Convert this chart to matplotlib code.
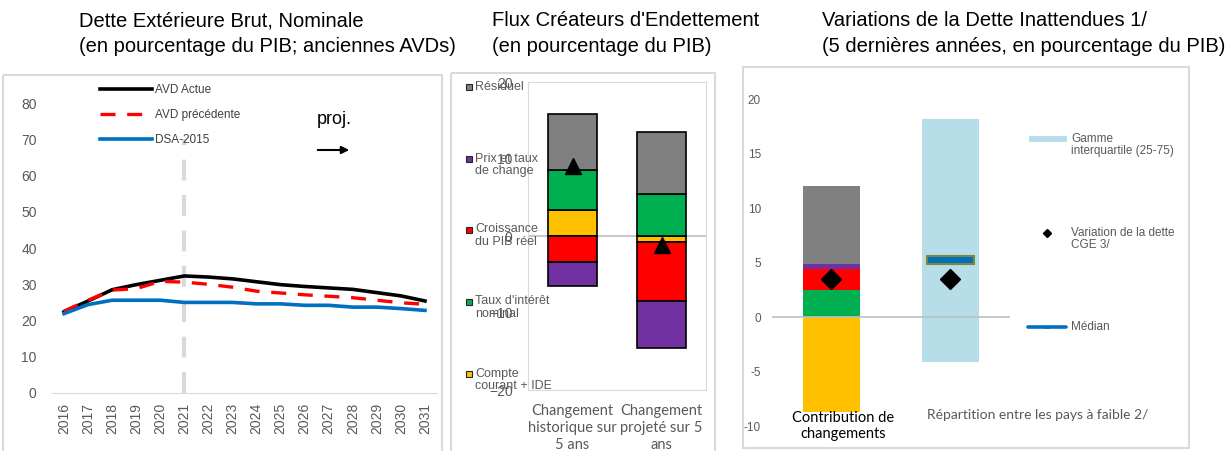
import matplotlib.pyplot as plt
from matplotlib.patches import Rectangle
import numpy as np

plt.rcParams['font.family'] = ['Liberation Sans', 'DejaVu Sans']

W, H = 1228, 451

# ---- data: left panel (dette extérieure)
years = ['2016', '2017', '2018', '2019', '2020', '2021', '2022', '2023',
         '2024', '2025', '2026', '2027', '2028', '2029', '2030', '2031']
avd_actuelle = [22.4, 25.4, 28.5, 29.9, 31.1, 32.3, 32.0, 31.5, 30.7, 29.9, 29.4, 29.0, 28.6, 27.7, 26.8, 25.4]
avd_precedente = [22.6, 25.6, 28.4, 28.8, 30.8, 30.6, 30.0, 29.2, 28.1, 27.6, 27.1, 26.7, 26.3, 25.6, 24.9, 24.5]
dsa_2015 = [21.9, 24.4, 25.6, 25.6, 25.6, 25.0, 25.0, 25.0, 24.6, 24.6, 24.2, 24.2, 23.7, 23.7, 23.3, 22.8]
proj_start = '2021'

# ---- data: middle panel (flux créateurs d'endettement)
flux_cats = ['Changement\nhistorique sur\n5 ans', 'Changement\nprojeté sur 5\nans']
flux_labels = ['Compte\ncourant + IDE', "Taux d'intérêt\nnominal", 'Croissance\ndu PIB réel',
               'Prix et taux\nde change', 'Résiduel']
flux_colors = ['#FFC000', '#00B050', '#FF0000', '#7030A0', '#808080']
flux_ce = [3.4, -0.8]
flux_taux = [5.2, 5.5]
flux_croiss = [-3.4, -7.7]
flux_prix = [-3.15, -6.1]
flux_resid = [7.3, 8.0]
flux_total = [9.1, -1.2]

# ---- data: right panel (variations inattendues)
var_cats = ['Contribution de\nchangements', 'Répartition entre les pays à faible 2/']
var_contrib = [-8.65, 2.5, 1.93, 0.47, 7.15]   # same order as flux_labels
iqr_low, iqr_high = -4.1, 18.2
median_val = 5.25
var_dette = [3.5, 3.5]


def px_axes(l, t, r, b, **kw):
    return fig.add_axes([l / W, 1 - b / H, (r - l) / W, (b - t) / H], **kw)


fig = plt.figure(figsize=(W / 100, H / 100), dpi=100)
grey_txt = '#595959'

# ================= panel 1
ax1 = px_axes(52, 85, 437, 393)
x = np.arange(len(years))
l1, = ax1.plot(x, avd_actuelle, color='black', lw=2.6)
l2, = ax1.plot(x, avd_precedente, color='#FF0000', lw=2.4, dashes=(4.5, 3.5))
l3, = ax1.plot(x, dsa_2015, color='#0070C0', lw=2.6)
ax1.axvline(years.index(proj_start), ymin=0, ymax=70 / 85, color='#d9d9d9', lw=3, dashes=(5, 3.5), zorder=0)
ax1.set_xlim(-0.5, len(years) - 0.5)
ax1.set_ylim(0, 85)
ax1.set_yticks(range(0, 81, 10))
ax1.set_xticks(x, years, rotation=90)
ax1.tick_params(length=0, labelsize=10, labelcolor=grey_txt)
ax1.tick_params(axis='y', pad=11)
ax1.tick_params(axis='x', pad=7)
for s in ['top', 'right', 'left']:
    ax1.spines[s].set_visible(False)
ax1.spines['bottom'].set_color('#d9d9d9')
ax1.patch.set_alpha(0)
ax1.legend([l1, l2, l3], ['AVD Actue', 'AVD précédente', 'DSA-2015'], loc='upper left',
           bbox_to_anchor=(0.125, 1.004), frameon=False, fontsize=8.5, labelcolor='#404040',
           handlelength=4.4, handletextpad=0.25, labelspacing=1.1, borderpad=0, borderaxespad=0)

# ================= panel 2
ax2 = px_axes(528, 82, 706, 390)
xc = np.arange(len(flux_cats))
series = [flux_ce, flux_taux, flux_croiss, flux_prix, flux_resid]
pos_base = np.zeros(len(flux_cats))
neg_base = np.zeros(len(flux_cats))
for vals, col in zip(series, flux_colors):
    vals = np.array(vals)
    bottom = np.where(vals >= 0, pos_base, neg_base)
    ax2.bar(xc, vals, bottom=bottom, width=0.56, color=col, edgecolor='black', lw=1.2, zorder=2)
    pos_base = pos_base + np.where(vals >= 0, vals, 0)
    neg_base = neg_base + np.where(vals < 0, vals, 0)
ax2.plot(xc, flux_total, ls='none', marker='^', ms=11.5, color='black', zorder=3)
ax2.axhline(0, color='#bfbfbf', lw=1.2, zorder=1)
ax2.set_xlim(-0.5, 1.5)
ax2.set_ylim(-20, 20)
ax2.set_yticks([-20, -10, 0, 10, 20])
ax2.set_xticks(xc, flux_cats, fontsize=10.5, color=grey_txt, family=['Lato', 'DejaVu Sans'], linespacing=1.3)
ax2.tick_params(length=0, labelcolor=grey_txt)
ax2.tick_params(axis='y', labelsize=10, pad=11)
ax2.tick_params(axis='x', pad=10)
for s in ax2.spines.values():
    s.set_color('#d9d9d9')
ax2.patch.set_alpha(0)

# ================= panel 3
ax3 = px_axes(772, 85, 1010, 440)
ax3.bar(1, iqr_high - iqr_low, bottom=iqr_low, width=0.48, color='#B7DEE8', zorder=1)
pos, neg = 0.0, 0.0
for v, col in zip(var_contrib, flux_colors):
    if v >= 0:
        ax3.bar(0, v, bottom=pos, width=0.48, color=col, zorder=2)
        pos += v
    else:
        ax3.bar(0, v, bottom=neg, width=0.48, color=col, zorder=2)
        neg += v
ax3.bar(1, 0.7, bottom=median_val - 0.35, width=0.40, color='#0070C0', edgecolor='#7a8a3a', lw=1.5, zorder=3)
ax3.plot([0, 1], var_dette, ls='none', marker='D', ms=10, color='black', zorder=4)
ax3.axhline(0, color='#bfbfbf', lw=1.2, zorder=2.5)
ax3.set_xlim(-0.5, 1.5)
ax3.set_ylim((317.3 - 440) / 10.9, (317.3 - 85) / 10.9)
ax3.set_yticks([-10, -5, 0, 5, 10, 15, 20])
ax3.set_yticklabels(['-10', '-5', '0', '5', '10', '15', '20'])
ax3.set_xticks([])
ax3.tick_params(length=0, labelsize=8.5, labelcolor=grey_txt, pad=8)
for s in ax3.spines.values():
    s.set_visible(False)
ax3.patch.set_alpha(0)

# ================= overlay: frames, titles, legends
ov = fig.add_axes([0, 0, 1, 1], zorder=10)
ov.set_xlim(0, W)
ov.set_ylim(H, 0)
ov.axis('off')
ov.patch.set_alpha(0)

for (l, t, r, b) in [(3, 75, 442, 453), (451, 73, 715, 453), (743, 67, 1189, 448)]:
    ov.add_patch(Rectangle((l, t), r - l, b - t, fill=False, edgecolor='#d9d9d9', lw=1.5))

tkw = dict(fontsize=14.5, va='center', ha='left', color='black')
ov.text(79, 21, 'Dette Extérieure Brut, Nominale', **tkw)
ov.text(79, 47, '(en pourcentage du PIB; anciennes AVDs)', **tkw)
ov.text(492, 21, "Flux Créateurs d'Endettement", **tkw)
ov.text(492, 47, '(en pourcentage du PIB)', **tkw)
ov.text(822, 21, 'Variations de la Dette Inattendues 1/', **tkw)
ov.text(822, 47, '(5 dernières années, en pourcentage du PIB)', **tkw)

# proj. arrow
ov.text(317, 120, 'proj.', fontsize=13, va='center', ha='left')
ov.annotate('', xy=(352, 150), xytext=(315, 150),
            arrowprops=dict(arrowstyle='-|>', color='black', lw=1.5, mutation_scale=11))

# middle legend (top to bottom: reverse stack order)
leg_y = [87, 159, 230, 302, 374]
for yy, lab, col in zip(leg_y, flux_labels[::-1], flux_colors[::-1]):
    ov.add_patch(Rectangle((466, yy - 3), 6, 6, facecolor=col, edgecolor='#262626', lw=0.8))
    ov.text(475, yy - 6.5, lab, fontsize=9, color=grey_txt, va='top', ha='left', linespacing=1.05)

# right legend
ov.add_patch(Rectangle((1029, 136), 38, 6, facecolor='#B7DEE8', edgecolor='none'))
ov.text(1071, 132.5, 'Gamme\ninterquartile (25-75)', fontsize=8.5, color=grey_txt, va='top', ha='left', linespacing=1.05)
ov.plot([1047], [233], marker='D', ms=4, color='black', ls='none')
ov.text(1071, 226.5, 'Variation de la dette\nCGE 3/', fontsize=8.5, color=grey_txt, va='top', ha='left', linespacing=1.05)
ov.plot([1028, 1066], [327, 327], color='#0070C0', lw=2.6, solid_capstyle='round')
ov.add_patch(Rectangle((1045, 325.5), 5, 3, facecolor='#7a8a3a', edgecolor='none'))
ov.text(1071, 327, 'Médian', fontsize=8.5, color=grey_txt, va='center', ha='left')

# right panel category labels
ov.text(843, 426, var_cats[0], fontsize=10.5, color='black', ha='center', va='center',
        family=['Lato', 'DejaVu Sans'], linespacing=1.25)
ov.text(927, 415, var_cats[1], fontsize=10, color=grey_txt, ha='left', va='center',
        family=['Lato', 'DejaVu Sans'])

fig.savefig('out.png', dpi=100)
